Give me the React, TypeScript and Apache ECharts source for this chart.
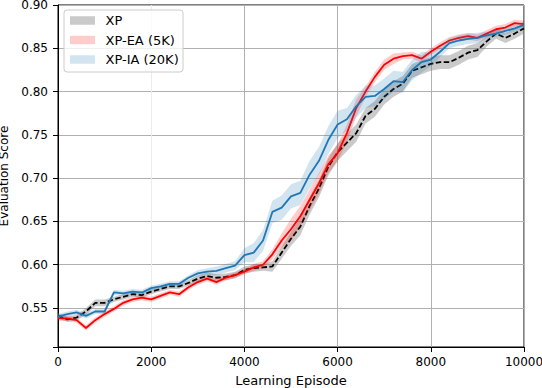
import React, { useEffect, useRef } from "react";
import * as echarts from "echarts";

const EPISODES = [
  0, 200, 400, 600, 800, 1000, 1200, 1400, 1600, 1800, 2000, 2200, 2400, 2600, 2800, 3000, 3200,
  3400, 3600, 3800, 4000, 4200, 4400, 4600, 4800, 5000, 5200, 5400, 5600, 5800, 6000, 6200, 6400,
  6600, 6800, 7000, 7200, 7400, 7600, 7800, 8000, 8200, 8400, 8600, 8800, 9000, 9200, 9400, 9600,
  9800, 10000,
];

const XP_MEAN = [
  0.541, 0.537, 0.539, 0.546, 0.556, 0.556, 0.56, 0.563, 0.566, 0.565, 0.569, 0.572, 0.575, 0.575,
  0.579, 0.584, 0.587, 0.585, 0.586, 0.588, 0.594, 0.596, 0.597, 0.598, 0.614, 0.63, 0.644, 0.668,
  0.688, 0.713, 0.73, 0.741, 0.752, 0.772, 0.78, 0.794, 0.803, 0.809, 0.824, 0.828, 0.832, 0.834,
  0.834, 0.839, 0.845, 0.848, 0.858, 0.867, 0.862, 0.867, 0.873,
];
const XP_SPREAD = [
  0.003, 0.003, 0.003, 0.004, 0.004, 0.004, 0.003, 0.003, 0.003, 0.003, 0.003, 0.003, 0.003, 0.003,
  0.003, 0.004, 0.004, 0.004, 0.004, 0.004, 0.004, 0.004, 0.004, 0.006, 0.007, 0.008, 0.01, 0.01,
  0.01, 0.01, 0.01, 0.01, 0.01, 0.009, 0.009, 0.009, 0.009, 0.009, 0.008, 0.008, 0.008, 0.008,
  0.008, 0.008, 0.008, 0.008, 0.006, 0.006, 0.006, 0.006, 0.006,
];

const EA_MEAN = [
  0.538, 0.538, 0.536, 0.527, 0.536, 0.543, 0.549, 0.556, 0.56, 0.562, 0.56, 0.564, 0.568, 0.566,
  0.574, 0.58, 0.584, 0.58, 0.585, 0.588, 0.592, 0.597, 0.6, 0.612, 0.628, 0.641, 0.656, 0.675,
  0.694, 0.716, 0.729, 0.752, 0.781, 0.8, 0.817, 0.831, 0.838, 0.841, 0.842, 0.838, 0.846, 0.853,
  0.859, 0.862, 0.864, 0.862, 0.867, 0.872, 0.874, 0.879, 0.878,
];
const EA_SPREAD = [
  0.003, 0.003, 0.003, 0.003, 0.003, 0.003, 0.003, 0.003, 0.003, 0.003, 0.003, 0.003, 0.003, 0.003,
  0.003, 0.003, 0.003, 0.003, 0.003, 0.003, 0.003, 0.004, 0.004, 0.006, 0.008, 0.012, 0.012, 0.012,
  0.012, 0.01, 0.01, 0.01, 0.01, 0.006, 0.006, 0.006, 0.006, 0.004, 0.004, 0.004, 0.004, 0.004,
  0.004, 0.004, 0.004, 0.004, 0.004, 0.004, 0.004, 0.004, 0.004,
];

const IA_MEAN = [
  0.54, 0.543, 0.545, 0.541, 0.546, 0.546, 0.568, 0.567, 0.569, 0.568, 0.573, 0.575, 0.578, 0.578,
  0.585, 0.59, 0.592, 0.593, 0.596, 0.599, 0.611, 0.614, 0.628, 0.661, 0.666, 0.679, 0.683, 0.704,
  0.72, 0.744, 0.762, 0.768, 0.783, 0.794, 0.795, 0.803, 0.812, 0.811, 0.825, 0.834, 0.837, 0.846,
  0.856, 0.859, 0.861, 0.862, 0.865, 0.867, 0.87, 0.873, 0.877,
];
const IA_SPREAD = [
  0.003, 0.003, 0.003, 0.003, 0.003, 0.003, 0.003, 0.003, 0.003, 0.003, 0.003, 0.003, 0.003, 0.003,
  0.003, 0.004, 0.004, 0.005, 0.005, 0.005, 0.008, 0.011, 0.012, 0.013, 0.014, 0.014, 0.014, 0.016,
  0.016, 0.016, 0.016, 0.013, 0.013, 0.013, 0.012, 0.012, 0.012, 0.012, 0.012, 0.012, 0.008, 0.006,
  0.006, 0.006, 0.006, 0.006, 0.004, 0.004, 0.004, 0.004, 0.004,
];

const SERIES_NAMES = ["XP", "XP-EA (5K)", "XP-IA (20K)"];
const X_TICKS = [0, 2000, 4000, 6000, 8000, 10000];

const FONT = "DejaVu Sans";

function bandSeries(key: string, mean: number[], spread: number[], color: string, z: number) {
  return {
    type: "custom",
    name: key + "-band",
    silent: true,
    clip: true,
    z,
    encode: { x: 0, y: 1 },
    data: [[EPISODES[0], mean[0]]],
    renderItem: (_params: any, api: any) => {
      const upper = EPISODES.map((x, i) => api.coord([x, mean[i] + spread[i]]));
      const lower = EPISODES.map((x, i) => api.coord([x, mean[i] - spread[i]])).reverse();
      return {
        type: "polygon",
        shape: { points: upper.concat(lower) },
        style: { fill: color, stroke: "none" },
      };
    },
  };
}

function meanSeries(name: string, mean: number[], color: string, dashed: boolean, z: number) {
  return {
    type: "line",
    name,
    data: EPISODES.map((x, i) => [x, mean[i]]),
    symbol: "none",
    silent: true,
    lineStyle: {
      color,
      width: 1.8,
      type: dashed ? [5.5, 2.5] : "solid",
    },
    z,
  };
}

export default function App() {
  const ref = useRef<HTMLDivElement>(null);

  useEffect(() => {
    if (!ref.current) return;
    const chart = echarts.init(ref.current, undefined, { renderer: "svg" });

    const legendTop = 10;
    const legendItems = [
      { name: SERIES_NAMES[0], color: "rgba(128,128,128,0.42)" },
      { name: SERIES_NAMES[1], color: "rgba(255,0,0,0.2)" },
      { name: SERIES_NAMES[2], color: "rgba(31,119,180,0.2)" },
    ];
    const legendGraphics: any[] = [
      {
        type: "rect",
        shape: { x: 64, y: legendTop, width: 119, height: 62, r: 3 },
        style: { fill: "rgba(255,255,255,0.8)", stroke: "#cccccc", lineWidth: 1 },
        z: 100,
      },
    ];
    legendItems.forEach((it, i) => {
      const cy = legendTop + 10.5 + i * 19.5;
      legendGraphics.push({
        type: "rect",
        shape: { x: 70, y: cy - 4.25, width: 25, height: 8.5 },
        style: { fill: it.color },
        z: 101,
      });
      legendGraphics.push({
        type: "text",
        x: 105.5,
        y: cy,
        style: {
          text: it.name,
          fill: "#000",
          font: `13px "${FONT}"`,
          verticalAlign: "middle",
          textAlign: "left",
        },
        z: 101,
      });
    });

    const option: any = {
      animation: false,
      backgroundColor: "#ffffff",
      textStyle: { fontFamily: FONT },
      grid: {
        left: 58,
        right: 18,
        top: 5,
        bottom: 41,
        outerBoundsMode: "none",
        containLabel: false,
        show: true,
        borderColor: "#000",
        borderWidth: 1,
        backgroundColor: "transparent",
      },
      xAxis: {
        type: "value",
        min: X_TICKS[0],
        max: X_TICKS[X_TICKS.length - 1],
        interval: 2000,
        name: "Learning Episode",
        nameLocation: "middle",
        nameGap: 27,
        nameTextStyle: { fontSize: 13, color: "#000", fontFamily: FONT },
        axisLine: { show: true, lineStyle: { color: "#000", width: 1 } },
        axisTick: { show: true, length: 5, lineStyle: { color: "#000" } },
        axisLabel: {
          fontSize: 12,
          color: "#000",
          margin: 9,
          fontFamily: FONT,
          formatter: (v: number) => String(Math.round(v)),
        },
        splitLine: {
          show: true,
          lineStyle: {
            color: ["#b0b0b0", "#ececec", "#b0b0b0", "#b0b0b0", "#b0b0b0", "#b0b0b0"],
            width: 1,
          },
        },
      },
      yAxis: {
        type: "value",
        min: 0.505,
        max: 0.9,
        minInterval: 0.05,
        maxInterval: 0.05,
        splitNumber: 8,
        name: "Evaluation Score",
        nameLocation: "middle",
        nameGap: 42,
        nameTextStyle: { fontSize: 12, color: "#000", fontFamily: FONT },
        axisLine: { show: true, lineStyle: { color: "#000", width: 1 } },
        axisTick: { show: true, length: 5, lineStyle: { color: "#000" } },
        axisLabel: {
          fontSize: 12,
          color: "#000",
          margin: 10,
          fontFamily: FONT,
          formatter: (v: number) =>
            Math.abs(v * 20 - Math.round(v * 20)) < 1e-6 ? v.toFixed(2) : "",
        },
        splitLine: { show: true, lineStyle: { color: "#b0b0b0", width: 1 } },
      },
      series: [
        bandSeries("xp", XP_MEAN, XP_SPREAD, "rgba(128,128,128,0.42)", 2),
        meanSeries(SERIES_NAMES[0], XP_MEAN, "#000000", true, 3),
        bandSeries("ea", EA_MEAN, EA_SPREAD, "rgba(255,0,0,0.2)", 4),
        meanSeries(SERIES_NAMES[1], EA_MEAN, "#ff0000", false, 5),
        bandSeries("ia", IA_MEAN, IA_SPREAD, "rgba(31,119,180,0.2)", 6),
        meanSeries(SERIES_NAMES[2], IA_MEAN, "#1f77b4", false, 7),
      ],
      graphic: legendGraphics,
    };

    chart.setOption(option);
    return () => {
      chart.dispose();
    };
  }, []);

  return (
    <div
      ref={ref}
      style={{ position: "fixed", left: 0, top: 0, width: 542, height: 388, background: "#fff" }}
    />
  );
}
